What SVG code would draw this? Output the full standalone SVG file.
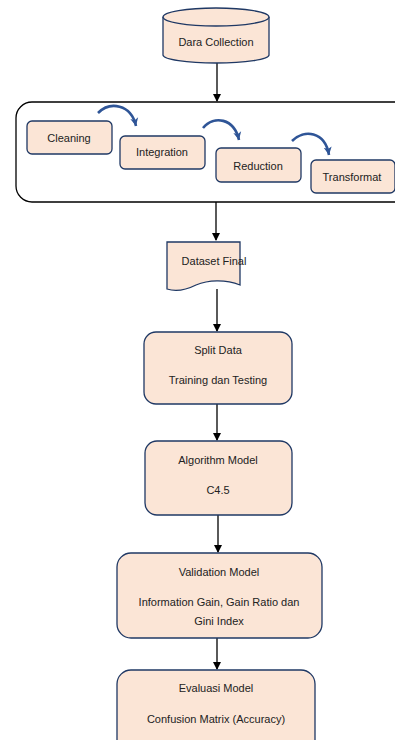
<svg xmlns="http://www.w3.org/2000/svg" width="395" height="740" viewBox="0 0 395 740">
<defs>
<style>
.box{fill:#FBE5D6;stroke:#1F3864;stroke-width:1.3}
.t{font-family:"Liberation Sans",Arial,sans-serif;font-size:11px;fill:#222;text-anchor:middle;dominant-baseline:central}
.c{fill:none;stroke:#000;stroke-width:1.3}
.cb{fill:none;stroke:#2F5597;stroke-width:2.6}
</style>
<marker id="ah" markerWidth="8" markerHeight="8" refX="7" refY="4" orient="auto" markerUnits="userSpaceOnUse">
<path d="M0,0 L8,4 L0,8 Z" fill="#000"/>
</marker>
<marker id="bh" markerWidth="10" markerHeight="10" refX="8" refY="5" orient="auto" markerUnits="userSpaceOnUse">
<path d="M0,1 L8,5 L0,9 L2,5 Z" fill="#2F5597"/>
</marker>
</defs>
<rect width="395" height="740" fill="#fff"/>
<g id="connectors">
<line class="c" x1="217" y1="63" x2="217" y2="101" marker-end="url(#ah)"/>
<line class="c" x1="216" y1="202" x2="216" y2="240" marker-end="url(#ah)"/>
<line class="c" x1="217" y1="289" x2="217" y2="331" marker-end="url(#ah)"/>
<line class="c" x1="217" y1="404" x2="217" y2="440" marker-end="url(#ah)"/>
<line class="c" x1="218" y1="515" x2="218" y2="552" marker-end="url(#ah)"/>
<line class="c" x1="217" y1="638" x2="217" y2="669" marker-end="url(#ah)"/>
</g>
<g id="data-collection">
<path class="box" d="M163,17 L163,55 A53,8 0 0 0 269,55 L269,17"/>
<ellipse class="box" cx="216" cy="17" rx="53" ry="9"/>
<text class="t" x="216" y="42">Dara Collection</text>
</g>
<g id="preprocessing">
<rect x="16" y="102" width="395" height="100" rx="16" fill="#fff" stroke="#000" stroke-width="1.3"/>
</g>
<g id="cleaning">
<rect class="box" x="27" y="121" width="85" height="33" rx="5"/>
<text class="t" x="69" y="138">Cleaning</text>
</g>
<g id="integration">
<rect class="box" x="120" y="136" width="85" height="33" rx="5"/>
<text class="t" x="162" y="152">Integration</text>
</g>
<g id="reduction">
<rect class="box" x="216" y="148" width="85" height="34" rx="5"/>
<text class="t" x="258" y="166">Reduction</text>
</g>
<g id="transformat">
<rect class="box" x="311" y="160" width="84" height="33" rx="5"/>
<text class="t" x="352" y="177">Transformat</text>
</g>
<g id="flow-arrows">
<path class="cb" d="M98,113 C110,101 131,104 136,126" marker-end="url(#bh)"/>
<path class="cb" d="M203,128 C214,115 234,118 239,140" marker-end="url(#bh)"/>
<path class="cb" d="M292,141 C304,129 325,131 329,155" marker-end="url(#bh)"/>
</g>
<g id="dataset-final">
<path class="box" d="M167,242 L240,242 L240,285 C225,279 208,280 196,285 C186,290 176,292 167,289 Z"/>
<text class="t" x="214" y="261">Dataset Final</text>
</g>
<g id="split-data">
<rect class="box" x="144" y="332" width="148" height="72" rx="12"/>
<text class="t" x="218" y="350">Split Data</text>
<text class="t" x="218" y="380">Training dan Testing</text>
</g>
<g id="algorithm-model">
<rect class="box" x="145" y="441" width="147" height="74" rx="12"/>
<text class="t" x="218" y="460">Algorithm Model</text>
<text class="t" x="218" y="490">C4.5</text>
</g>
<g id="validation-model">
<rect class="box" x="117" y="553" width="205" height="85" rx="14"/>
<text class="t" x="219" y="572">Validation Model</text>
<text class="t" x="219" y="602">Information Gain, Gain Ratio dan</text>
<text class="t" x="219" y="621">Gini Index</text>
</g>
<g id="evaluasi-model">
<rect class="box" x="117" y="670" width="198" height="85" rx="14"/>
<text class="t" x="216" y="688">Evaluasi Model</text>
<text class="t" x="216" y="719">Confusion Matrix (Accuracy)</text>
</g>
</svg>
